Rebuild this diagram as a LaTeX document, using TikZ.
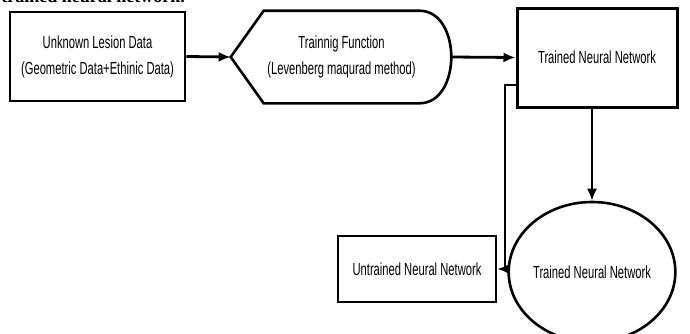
\documentclass[tikz,border=0pt]{standalone}
\usepackage{fontspec}
\setmainfont{Liberation Serif}
\newfontfamily\boxfont{Liberation Sans}[FakeStretch=0.64]
\usetikzlibrary{arrows.meta,shapes.geometric}

\begin{document}
\begin{tikzpicture}
    [
        x=1pt, y=-1pt,
        ->,
        >={Latex[length=12pt,width=10pt]},
        semithick,
        block/.style={draw, line width=2.6pt, inner sep=0pt, align=center,
            font=\boxfont\fontsize{17.5}{26}\selectfont},
        block thick/.style={block, line width=3pt},
        flow/.style={line width=2.8pt},
        flow thin/.style={line width=2pt},
        outline/.style={-, line width=2.6pt, line join=miter}
    ]
    \useasboundingbox (0,0) rectangle (690,333);
    \clip (0,0) rectangle (690,333);

    % caption line cut off at the top
    \node (caption) [anchor=base west, inner sep=0pt,
        font=\bfseries\fontsize{18}{20}\selectfont] at (1,2)
        {trained neural network.};

    \node (lesion) [block, minimum width=175pt, minimum height=89pt]
        at (97.5,56.5)
        {Unknown Lesion Data\\(Geometric Data+Ethinic Data)};

    \node (train) [block, draw=none, minimum width=153pt, minimum height=90pt]
        at (341.5,57)
        {Trainnig Function\\(Levenberg maqurad method)};
    \coordinate (train tip) at ([xshift=-33pt]train.west);
    \coordinate (train nose) at ([xshift=32pt]train.east);
    \draw [outline]
        (train tip) -- (train.north west) -- (train.north east)
        to [out=0, in=90] (train nose)
        to [out=-90, in=0] (train.south east)
        -- (train.south west) -- cycle;

    \node (trained net) [block thick, minimum width=160pt, minimum height=99pt]
        at (597,57.5)
        {Trained Neural Network};

    \node (trained ell) [block, ellipse, minimum width=142pt, minimum height=140pt]
        at (592,272)
        {Trained Neural Network};

    \node (untrained net) [block, minimum width=158pt, minimum height=66pt]
        at (417,269)
        {Untrained Neural Network};

    \draw [flow] (lesion.east) -- (train tip);
    \draw [flow] (train nose) -- (trained net.west);
    \draw [flow thin] (trained ell.north |- trained net.south) -- (trained ell.north);
    \draw [flow thin] ([yshift=-27.5pt]trained net.west) -- ++(-11,0)
        |- (untrained net.east);

\end{tikzpicture}
\end{document}
